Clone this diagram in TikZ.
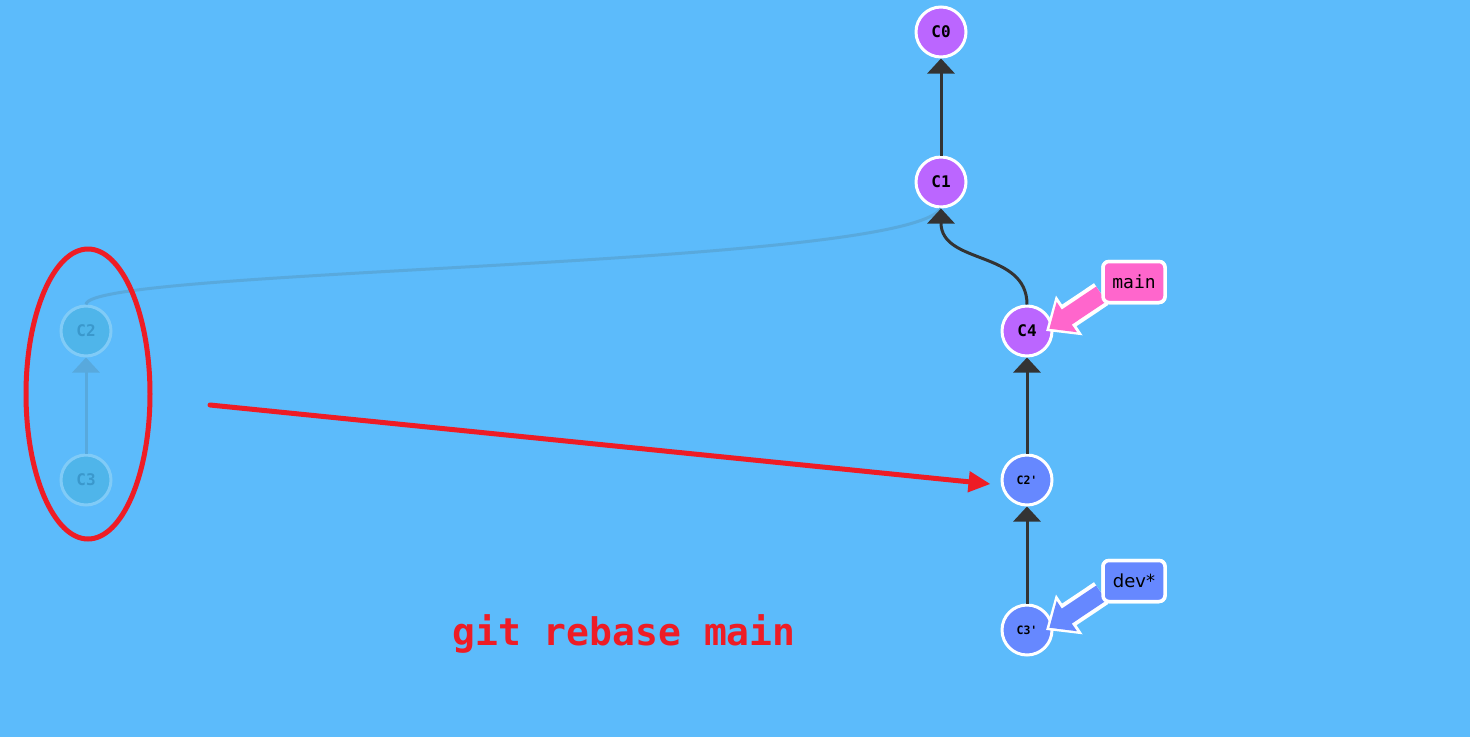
\documentclass[tikz,border=0pt]{standalone}
\usepackage{fontspec}
\setmonofont{DejaVu Sans Mono}
\setsansfont{DejaVu Sans}
\usetikzlibrary{arrows.meta,
                positioning}
\definecolor{bg}{HTML}{5CBBFB}
\definecolor{mainpurple}{HTML}{BB66FF}
\definecolor{devblue}{HTML}{6688FF}
\definecolor{branchpink}{HTML}{FF66CC}
\definecolor{ghostfill}{HTML}{4FB5EA}
\definecolor{ghostline}{HTML}{80CBF7}
\definecolor{ghosttext}{HTML}{3A98CC}
\definecolor{ghostedge}{HTML}{58A9DD}
\definecolor{edgegray}{HTML}{333333}
\definecolor{markred}{HTML}{EE1C25}
\tikzset{commit/.style =
   {circle,
    draw=white,
    line width=3pt,
    minimum size=50pt,
    inner sep=0pt,
    font=\ttfamily\bfseries\fontsize{16}{18}\selectfont}}
\tikzset{ghost/.style =
   {commit,
    draw=ghostline,
    fill=ghostfill,
    text=ghosttext}}
\tikzset{parent/.style =
   {draw=edgegray,
    line width=3pt,
    -{Triangle[length=15pt,width=27pt]}}}
\tikzset{ghostparent/.style =
   {parent,
    draw=ghostedge,
    fill=ghostedge}}
\tikzset{branch/.style =
   {rectangle,
    draw=white,
    line width=3.5pt,
    rounded corners=6pt,
    minimum width=62pt,
    minimum height=41pt,
    font=\fontsize{18}{20}\selectfont}}
\tikzset{branchoutline/.style =
   {draw=white,
    line width=26pt,
    -{Triangle[length=28pt,width=46pt]}}}
\tikzset{branchfill/.style =
   {line width=18pt,
    shorten >=4pt,
    -{Triangle[length=21pt,width=35pt]}}}

\begin{document}
\begin{tikzpicture}[x=1pt, y=-1pt]

    \fill [bg] (0,0) rectangle (1470,737);
    \useasboundingbox (0,0) rectangle (1470,737);

    % rebased chain
    \node [commit, fill=mainpurple] (c0) at (941,32) {C0};

    \node [commit,
           fill=mainpurple,
           on grid,
           below = 150pt of c0] (c1) {C1};

    \node [commit, fill=mainpurple] (c4) at (1027,331) {C4};

    \node [commit,
           fill=devblue,
           font=\ttfamily\bfseries\fontsize{11.5}{13}\selectfont,
           on grid,
           below = 149pt of c4] (c2p) {C2'};

    \node [commit,
           fill=devblue,
           font=\ttfamily\bfseries\fontsize{11.5}{13}\selectfont,
           on grid,
           below = 150pt of c2p] (c3p) {C3'};

    % old commits
    \node [ghost] (c2) at (86,331) {C2};

    \node [ghost,
           on grid,
           below = 149pt of c2] (c3) {C3};

    \draw [ghostedge, line width=3pt]
        (c2.north) .. controls (86,268) and (900,268) .. (c1.south);
    \draw [ghostparent] (c3) -- (c2);

    \draw [parent] (c1) -- (c0);
    \draw [parent]
        (c4.north) .. controls (1027,250) and (941,265) .. (c1.south);
    \draw [parent] (c2p) -- (c4);
    \draw [parent] (c3p) -- (c2p);

    % branch labels
    \node [branch,
           fill=branchpink,
           font=\ttfamily\fontsize{18}{20}\selectfont] (main) at (1134,282) {main};

    \node [branch,
           fill=devblue,
           font=\sffamily\fontsize{18}{20}\selectfont] (dev) at (1134,581) {dev*};

    \coordinate (maintip) at (1046,331);
    \coordinate (devtip) at (1046,630);

    \draw [branchoutline] (main.west |- 0,294) -- (maintip);
    \draw [branchfill, branchpink] (main.west |- 0,294) -- (maintip);
    \draw [branchoutline] (dev.west |- 0,593) -- (devtip);
    \draw [branchfill, devblue] (dev.west |- 0,593) -- (devtip);
    \node [branch, fill=branchpink,
           font=\ttfamily\fontsize{18}{20}\selectfont] at (main) {main};
    \node [branch, fill=devblue,
           font=\sffamily\fontsize{18}{20}\selectfont] at (dev) {dev*};

    % annotation
    \draw [markred, line width=5pt] (88,394) ellipse [x radius=62pt, y radius=145pt];

    \coordinate (rebasestart) at (210,405);
    \draw [markred,
           line width=5pt,
           line cap=round,
           -{Triangle[length=22pt,width=20pt]}]
        (rebasestart) -- ([xshift=-10pt, yshift=-4pt]c2p.west);

    \node [markred,
           font=\ttfamily\bfseries\fontsize{38}{40}\selectfont] (cmd) at (624,634) {git rebase main};

\end{tikzpicture}
\end{document}
